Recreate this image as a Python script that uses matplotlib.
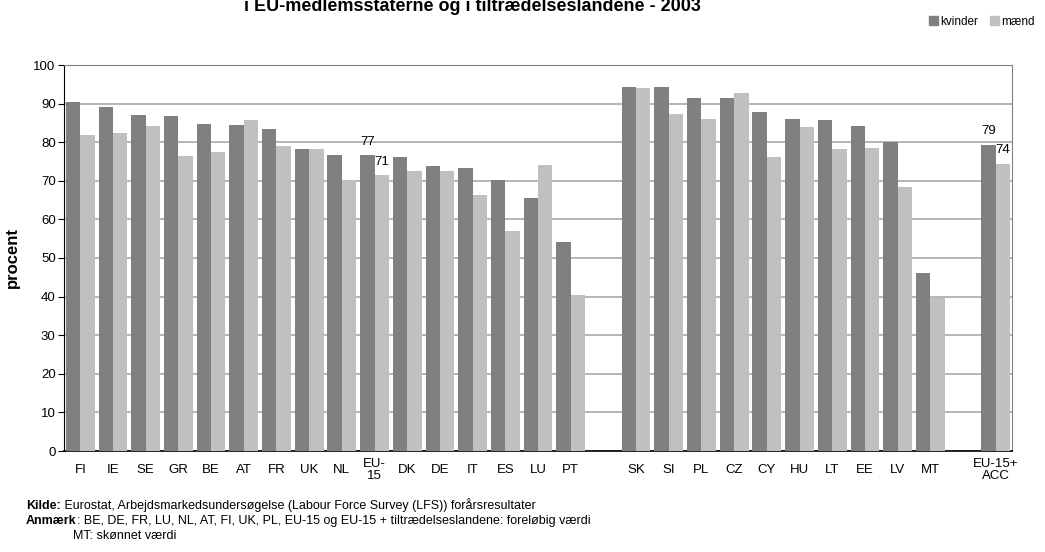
import matplotlib.pyplot as plt
import numpy as np
from matplotlib.patches import Patch

plt.rcParams['font.family'] = ['Liberation Sans', 'DejaVu Sans']

# data
eu_lande = ['FI', 'IE', 'SE', 'GR', 'BE', 'AT', 'FR', 'UK', 'NL', 'EU-\n15',
            'DK', 'DE', 'IT', 'ES', 'LU', 'PT']
eu_kvinder = [90.3, 89.1, 87.0, 86.8, 84.7, 84.5, 83.4, 78.2, 76.7, 76.7,
              76.2, 73.8, 73.3, 70.2, 65.5, 54.1]
eu_maend = [81.9, 82.4, 84.2, 76.4, 77.5, 85.8, 79.0, 78.2, 70.2, 71.4,
            72.5, 72.5, 66.3, 57.0, 74.1, 40.4]

acc_lande = ['SK', 'SI', 'PL', 'CZ', 'CY', 'HU', 'LT', 'EE', 'LV', 'MT']
acc_kvinder = [94.3, 94.3, 91.5, 91.5, 87.8, 86.0, 85.8, 84.2, 80.0, 46.1]
acc_maend = [94.0, 87.3, 86.0, 92.7, 76.2, 83.9, 78.2, 78.5, 68.4, 39.6]

tot_land = ['EU-15+\nACC']
tot_kvinder = [79.3]
tot_maend = [74.4]

# positions: one empty slot between the groups
x_eu = np.arange(len(eu_lande))
x_acc = np.arange(len(acc_lande)) + len(eu_lande) + 1
x_tot = np.array([x_acc[-1] + 2])
x = np.concatenate([x_eu, x_acc, x_tot])
labels = eu_lande + acc_lande + tot_land
kvinder = eu_kvinder + acc_kvinder + tot_kvinder
maend = eu_maend + acc_maend + tot_maend

c_k = '#808080'
c_m = '#c0c0c0'
w = 0.44
fs = 9.5

fig = plt.figure(figsize=(10.45, 5.52), dpi=100)
ax = fig.add_axes([64 / 1045, 1 - 451 / 552, 948 / 1045, 386 / 552])

ax.bar(x - w / 2, kvinder, w, color=c_k, zorder=3)
ax.bar(x + w / 2, maend, w, color=c_m, zorder=3)

# value labels for EU-15 and EU-15+ACC
for idx in [9, len(x) - 1]:
    for xx, v in [(x[idx] - w / 2, kvinder[idx]), (x[idx] + w / 2, maend[idx])]:
        ax.annotate('%d' % round(v), (xx, v), xytext=(0, 7.5), textcoords='offset points',
                    ha='center', va='baseline', fontsize=fs)

ax.set_xlim(-0.5, x[-1] + 0.5)
ax.set_ylim(0, 100)
ax.set_yticks(np.arange(0, 101, 10))
ax.yaxis.grid(True, color='#b0b0b0', lw=1.3, zorder=0)
ax.set_axisbelow(True)
ax.set_xticks(x)
ax.set_xticklabels(labels, fontsize=fs, linespacing=1.0)
for t in ax.get_xticklabels():
    t.set_va('center')
ax.tick_params(axis='x', length=0, pad=13.5)
ax.tick_params(axis='y', length=4, labelsize=fs, pad=2)

ax.spines['top'].set_color('#808080')
ax.spines['right'].set_color('#808080')
ax.spines['left'].set_color('black')
ax.spines['bottom'].set_color('black')
ax.spines['bottom'].set_linewidth(1.2)

ax.set_ylabel('procent', fontsize=12, fontweight='bold', labelpad=10)

fig.text(0.452, 1 - 11 / 552, 'i EU-medlemsstaterne og i tiltrædelseslandene - 2003',
         ha='center', va='baseline', fontsize=13, fontweight='bold')

fig.legend(handles=[Patch(color=c_k, label='kvinder'), Patch(color=c_m, label='mænd')],
           loc='upper right', bbox_to_anchor=(1.0, 1 - 5 / 552), ncol=2, frameon=False,
           fontsize=8.5, handlelength=0.75, handleheight=0.75, handletextpad=0.2,
           columnspacing=1.0)

# footnotes: bold lead word followed by normal text, on a shared baseline
fig.canvas.draw()
renderer = fig.canvas.get_renderer()
noter = [('Kilde:', ' Eurostat, Arbejdsmarkedsundersøgelse (Labour Force Survey (LFS)) forårsresultater', 509),
         ('Anmærk', ': BE, DE, FR, LU, NL, AT, FI, UK, PL, EU-15 og EU-15 + tiltrædelseslandene: foreløbig værdi', 524)]
for fed, rest, ypix in noter:
    t = fig.text(26 / 1045, 1 - ypix / 552, fed, fontsize=9, fontweight='bold', va='baseline')
    bb = t.get_window_extent(renderer)
    fig.text(bb.x1 / fig.bbox.width, 1 - ypix / 552, rest, fontsize=9, va='baseline')
fig.text(73 / 1045, 1 - 539 / 552, 'MT: skønnet værdi', fontsize=9, va='baseline')

fig.savefig('out.png', dpi=100)
